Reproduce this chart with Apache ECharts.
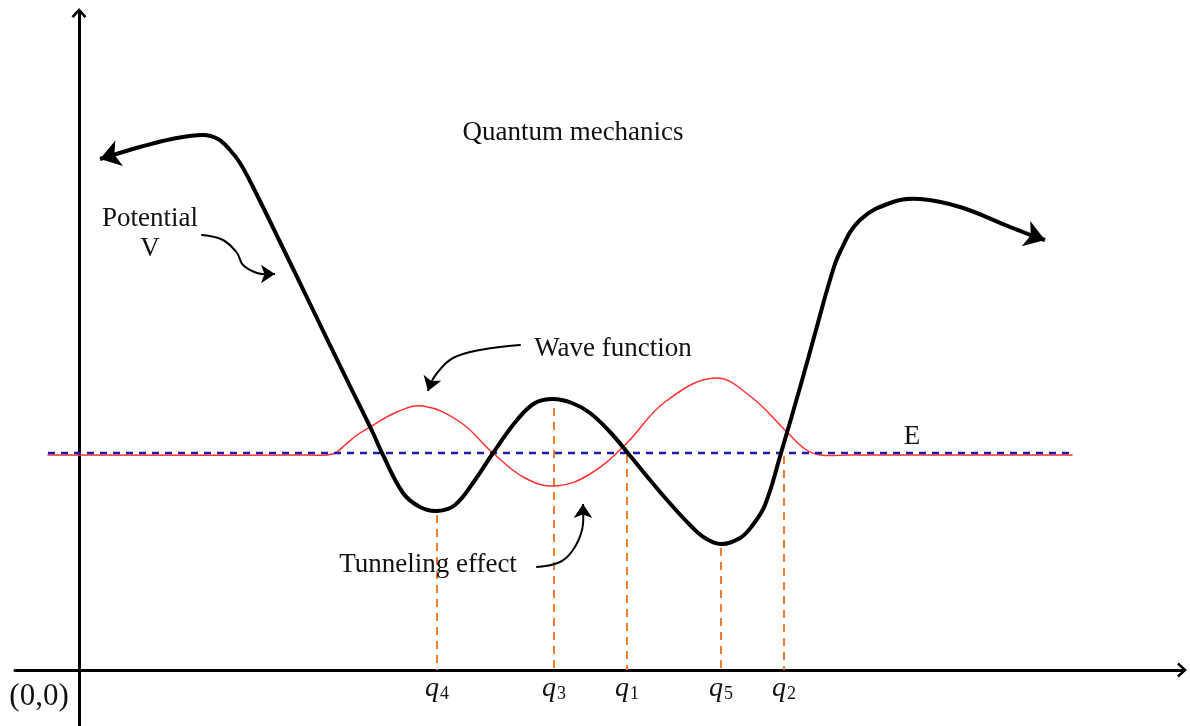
<!DOCTYPE html>
<html>
<head>
<meta charset="utf-8">
<script src="https://cdn.jsdelivr.net/npm/echarts@6/dist/echarts.min.js"></script>
<style>
  html, body { margin: 0; padding: 0; background: #fff; }
  #main { width: 1190px; height: 726px; }
</style>
</head>
<body>
<div id="main"></div>
<script>
// all values in axis units, origin (0,0) at the axes crossing

// potential V (thick black curve)
const potentialV = [[31,514],[61,523],[93,531],[124,535],[139,531],[151,520],[161,507],[174,483],[201,428],[234,360],[268,290],[294,237],[303,217],[324,177],[341,163],[358,159],[376,165],[396,190],[414,217],[438,250],[456,267],[474,271],[493,267],[511,257],[531,238],[548,218],[571,190],[588,170],[611,145],[626,132],[643,126],[661,132],[673,144],[686,165],[702,217],[722,286],[737,340],[751,390],[761,418],[781,450],[814,468],[841,471],[881,463],[931,443],[954,434]];
// arrow heads at both ends of V
const vHeads = [[[31,514],[21,511]], [[954,434],[966,430]]];

// wave function (thin red)
const waveFn = [[-31,215],[230,215],[254,216],[266,225],[278,235],[291,243],[318,258],[344,264],[381,248],[414,217],[446,192],[477,184],[511,196],[546,225],[586,268],[636,292],[671,274],[708,238],[726,221],[741,215],[770,215],[993,215]];

// energy level E
const energyE = [[-31,217],[993,217]];

// turning points q
const qNames = ['4','3','1','5','2'];
const qX = [358,475,548,642,705];
const qTop = [155,262,215,122,214];
const qLabelY = -18;

// annotation arrows
const arrowPotential = [[123,435],[144,430],[158,417],[164,405],[178,397],[190,396]];
const arrowWave = [[441,325],[401,320],[374,312],[358,297],[351,285]];
const arrowTunnel = [[458,103],[481,108],[494,120],[503,140],[504,160]];
const annoHeads = [[[190,396],[196,396]], [[351,285],[349,279]], [[504,160],[504,166]]];

// text labels
const notes = [
  { name: 'Quantum mechanics', value: [494,537] },
  { name: 'Potential', value: [71,451] },
  { name: 'V', value: [71,421] },
  { name: 'Wave function', value: [534,321] },
  { name: 'Tunneling effect', value: [349,105] },
  { name: 'E', value: [833,233] },
  { name: '(0,0)', value: [-40,-27], label: { fontSize: 31 } }
];

const chevron = 'path://M10,0 L20,11 L17.2,13.2 L10,4.8 L2.8,13.2 L0,11 Z';
const serif = 'Liberation Serif';

// smooth curve through the points, placed with the chart's own coord()
function curve(points, color, width, smooth, z) {
  return {
    type: 'custom',
    z: z,
    silent: true,
    data: [[points[0][0], points[0][1]]],
    renderItem: function (params, api) {
      return {
        type: 'polyline',
        shape: { points: points.map(function (p) { return api.coord(p); }), smooth: smooth },
        style: { stroke: color, lineWidth: width, fill: 'none', lineJoin: 'round', lineCap: 'round' }
      };
    }
  };
}

var chart = echarts.init(document.getElementById('main'));

var option = {
  animation: false,
  backgroundColor: '#fff',
  grid: { left: 15, right: 8, top: 13, bottom: 0, containLabel: false, outerBoundsMode: 'none' },
  xAxis: {
    type: 'value',
    min: -64,
    max: 1103,
    splitLine: { show: false },
    axisTick: { show: false },
    axisLabel: { show: false },
    axisLine: {
      onZero: true,
      symbol: ['none', chevron],
      symbolSize: [15, 12],
      lineStyle: { color: '#000', width: 3 }
    }
  },
  yAxis: {
    type: 'value',
    min: -56,
    max: 657,
    splitLine: { show: false },
    axisTick: { show: false },
    axisLabel: { show: false },
    axisLine: {
      onZero: true,
      symbol: ['none', chevron],
      symbolSize: [15, 12],
      lineStyle: { color: '#000', width: 3 }
    }
  },
  series: [
    {
      // q dashed drop lines
      type: 'lines',
      coordinateSystem: 'cartesian2d',
      z: 1,
      silent: true,
      lineStyle: { color: '#ee7b30', width: 2, type: [8, 6], opacity: 1 },
      data: qX.map(function (x, i) { return { coords: [[x, qTop[i]], [x, 0]] }; })
    },
    curve(waveFn, '#ff3030', 1.5, 0.4, 2),
    {
      name: 'E',
      type: 'line',
      z: 3,
      data: energyE,
      showSymbol: false,
      lineStyle: { color: '#1d1da8', width: 2.5, type: [7, 6] }
    },
    curve(potentialV, '#000', 4, 0.4, 4),
    {
      type: 'lines',
      coordinateSystem: 'cartesian2d',
      z: 4,
      symbol: ['none', 'arrow'],
      symbolSize: [16, 20],
      lineStyle: { color: '#000', width: 4, opacity: 1 },
      data: vHeads.map(function (c) { return { coords: c }; })
    },
    curve(arrowPotential, '#000', 2, 0.4, 5),
    curve(arrowWave, '#000', 2, 0.4, 5),
    curve(arrowTunnel, '#000', 2, 0.4, 5),
    {
      type: 'lines',
      coordinateSystem: 'cartesian2d',
      z: 5,
      symbol: ['none', 'arrow'],
      symbolSize: [11, 14],
      lineStyle: { color: '#000', width: 2, opacity: 1 },
      data: annoHeads.map(function (c) { return { coords: c }; })
    },
    {
      type: 'scatter',
      z: 6,
      symbolSize: 0,
      itemStyle: { opacity: 1 },
      data: notes,
      label: {
        show: true,
        position: 'inside',
        formatter: '{b}',
        fontFamily: serif,
        fontSize: 27,
        color: '#111',
        opacity: 1
      }
    },
    {
      // q labels under the axis
      type: 'scatter',
      z: 6,
      symbolSize: 0,
      itemStyle: { opacity: 1 },
      data: qX.map(function (x, i) { return { name: qNames[i], value: [x, qLabelY] }; }),
      label: {
        show: true,
        position: 'inside',
        formatter: function (p) { return '{q|q}{s|' + p.name + '}'; },
        rich: {
          q: { fontFamily: serif, fontStyle: 'italic', fontSize: 28, lineHeight: 30, color: '#111', verticalAlign: 'bottom' },
          s: { fontFamily: serif, fontSize: 18, lineHeight: 18, color: '#111', verticalAlign: 'bottom', padding: [0, 0, 0, 1] }
        }
      }
    }
  ]
};

chart.setOption(option);
</script>
</body>
</html>
